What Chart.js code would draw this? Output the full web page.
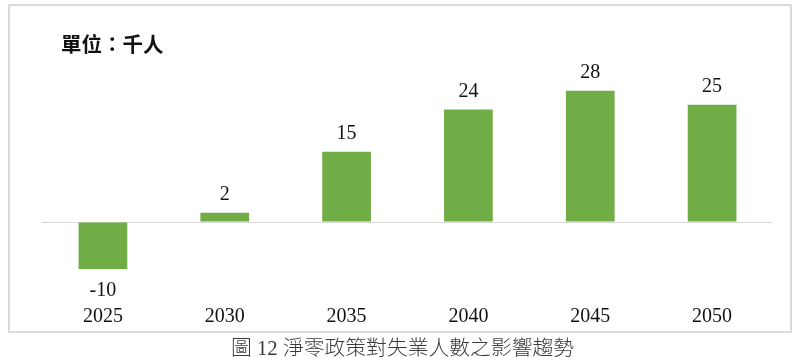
<!DOCTYPE html>
<html>
<head>
<meta charset="utf-8">
<script src="https://cdn.jsdelivr.net/npm/chart.js@4/dist/chart.umd.min.js"></script>
<style>
  html, body { margin: 0; padding: 0; background: #fff; }
  body { width: 800px; height: 357px; position: relative; overflow: hidden; }
  #box { position: absolute; left: 8px; top: 4px; width: 784px; height: 329px; box-sizing: border-box; border: 2px solid #dadada; }
  #chart { position: absolute; left: 0; top: 0; }
  #unit { position: absolute; left: 61px; top: 30px; font-family: "Noto Sans CJK TC", sans-serif; font-size: 20.5px; font-weight: 700; line-height: 26px; color: #111; white-space: nowrap; }
  #caption { position: absolute; left: 0; width: 805px; top: 333px; text-align: center; font-family: "Liberation Serif", "Noto Sans CJK TC", serif; font-size: 20.8px; line-height: 26px; color: #3a3a3a; white-space: nowrap; }
  #caption .cjk { font-family: "Noto Sans CJK TC", sans-serif; font-weight: 300; }
</style>
</head>
<body>
<div id="box"></div>
<canvas id="chart" width="800" height="357"></canvas>
<div id="unit">單位：千人</div>
<div id="caption"><span class="cjk">圖</span> 12 <span class="cjk">淨零政策對失業人數之影響趨勢</span></div>
<script>
const categories = ["2025", "2030", "2035", "2040", "2045", "2050"];
const unemploymentChange = [-10, 2, 15, 24, 28, 25];
const yMin = -11.7;
const yMax = 30;

const valueLabels = {
  id: 'valueLabels',
  afterDatasetsDraw(chart) {
    const ctx = chart.ctx;
    const meta = chart.getDatasetMeta(0);
    ctx.save();
    ctx.font = '20px "Liberation Serif", serif';
    ctx.fillStyle = '#111';
    ctx.textAlign = 'center';
    ctx.textBaseline = 'middle';
    meta.data.forEach((el, i) => {
      const v = chart.data.datasets[0].data[i];
      const y = v >= 0 ? el.y - 18 : el.y + 22;
      ctx.fillText(String(v), el.x, y);
    });
    ctx.restore();
  }
};

new Chart(document.getElementById('chart'), {
  type: 'bar',
  data: {
    labels: categories,
    datasets: [{
      data: unemploymentChange,
      backgroundColor: '#70ad47',
      borderWidth: 0,
      categoryPercentage: 1,
      barPercentage: 0.4
    }]
  },
  options: {
    responsive: false,
    animation: false,
    layout: { padding: { left: 42, right: 27, top: 81.4, bottom: 0 } },
    plugins: { legend: { display: false }, tooltip: { enabled: false }, title: { display: false } },
    scales: {
      x: {
        grid: { display: false, drawTicks: false },
        border: { display: false },
        ticks: { font: { family: '"Liberation Serif", serif', size: 20 }, color: '#111', padding: 28 }
      },
      y: {
        min: yMin,
        max: yMax,
        grid: {
          drawTicks: false,
          color: (c) => (c.tick && c.tick.value === 0) ? '#d9d9d9' : 'rgba(0,0,0,0)',
          lineWidth: 1
        },
        border: { display: false },
        ticks: { display: false, stepSize: 1 }
      }
    }
  },
  plugins: [valueLabels]
});
</script>
</body>
</html>
